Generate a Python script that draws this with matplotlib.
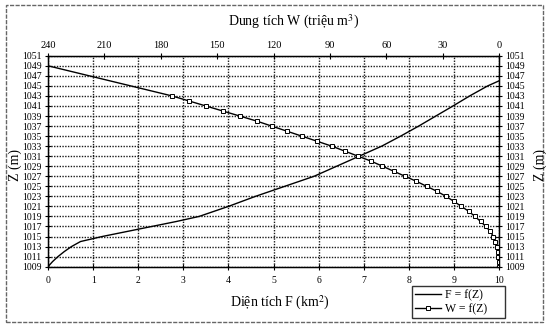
import matplotlib
matplotlib.use("Agg")
import matplotlib.pyplot as plt
from matplotlib.patches import Rectangle

plt.rcParams['font.family'] = ['Liberation Serif', 'DejaVu Serif']
plt.rcParams['mathtext.fontset'] = 'stix'

# F = f(Z): area (km2) vs elevation (m)
z_f = [1009, 1010, 1011, 1012, 1013, 1014, 1015, 1016, 1017, 1018, 1019,
       1021, 1023, 1025, 1027, 1029, 1031, 1033, 1035, 1037, 1039, 1041,
       1043, 1045, 1046]
f_vals = [0.0, 0.1, 0.22, 0.36, 0.52, 0.72, 1.2, 1.75, 2.3, 2.85, 3.35,
          4.0, 4.6, 5.25, 5.9, 6.4, 6.9, 7.4, 7.82, 8.22, 8.6, 8.98,
          9.35, 9.75, 10.0]

# W = f(Z): volume (million m3) vs elevation (m)
z_w = [1009, 1010, 1011, 1012, 1013, 1014, 1015, 1016, 1017, 1018, 1019,
       1020, 1021, 1022, 1023, 1024, 1025, 1026, 1027, 1028, 1029, 1030,
       1031, 1032, 1033, 1034, 1035, 1036, 1037, 1038, 1039, 1040, 1041,
       1042, 1043, 1049]
w_vals = [0.0, 0.15, 0.4, 0.7, 1.2, 2.0, 3.0, 4.6, 7.0, 9.8, 12.8,
          16.0, 20.0, 24.0, 28.2, 33.0, 38.5, 44.0, 50.0, 56.0, 62.0, 68.0,
          75.0, 82.0, 89.0, 97.0, 105.0, 113.0, 121.0, 129.0, 138.0, 147.0, 156.0,
          165.0, 174.0, 240.0]

z_ticks = list(range(1009, 1052, 2))
f_ticks = list(range(0, 11))
w_ticks = [240, 210, 180, 150, 120, 90, 60, 30, 0]

fig = plt.figure(figsize=(5.54, 3.30), dpi=100)
ax = fig.add_axes([0.0867, 0.192, 0.8140, 0.639])

ax.plot(f_vals, z_f, color='black', lw=1.0)
ax.set_xlim(0, 10)
ax.set_ylim(1009, 1051)
ax.set_xticks(f_ticks)
ax.set_yticks(z_ticks)
ax.grid(True, color='#1a1a1a', linestyle=(0, (1, 1)), linewidth=1.0)
ax.tick_params(axis='both', labelsize=7, direction='inout', length=5, width=0.8,
               right=True, labelright=True, pad=2)
ax.tick_params(axis='x', top=False, pad=4)
for s in ax.spines.values():
    s.set_linewidth(1.0)

ax2 = ax.twiny()
ax2.plot(w_vals, z_w, color='black', lw=1.0, marker='s', markersize=2.6,
         markerfacecolor='white', markeredgecolor='black', markeredgewidth=0.7,
         markevery=list(range(len(w_vals) - 1)))
ax2.set_xlim(240, 0)
ax2.set_xticks(w_ticks)
ax2.tick_params(axis='x', labelsize=7.5, direction='inout', length=5, width=0.8, pad=2)

fig.text(0.529, 0.933, 'Dung tích W (triệu m$^3$)', ha='center', va='center', fontsize=10)
fig.text(0.505, 0.082, 'Diện tích F (km$^2$)', ha='center', va='center', fontsize=10)
fig.text(0.028, 0.50, 'Z (m)', ha='center', va='center', rotation=90, fontsize=10)
fig.text(0.975, 0.50, 'Z (m)', ha='center', va='center', rotation=90, fontsize=10)

h1, = ax.plot([], [], color='black', lw=1.0)
h2, = ax.plot([], [], color='black', lw=1.0, marker='s', markersize=2.6,
              markerfacecolor='white', markeredgewidth=0.7)
leg = fig.legend([h1, h2], ['F = f(Z)', 'W = f(Z)'], loc='lower left',
                 bbox_to_anchor=(0.744, 0.036, 0.168, 0.106), mode='expand',
                 fontsize=8.5, frameon=True, fancybox=False, handlelength=2.2,
                 handletextpad=0.3, borderpad=0.25, labelspacing=0.2,
                 borderaxespad=0)
leg.get_frame().set_edgecolor('black')
leg.get_frame().set_linewidth(1.0)

fig.patches.append(Rectangle((0.011, 0.024), 0.969, 0.96, transform=fig.transFigure,
                             fill=False, edgecolor='#666666', linewidth=1.0,
                             linestyle=(0, (3, 1))))

fig.savefig('out.png', dpi=100)
